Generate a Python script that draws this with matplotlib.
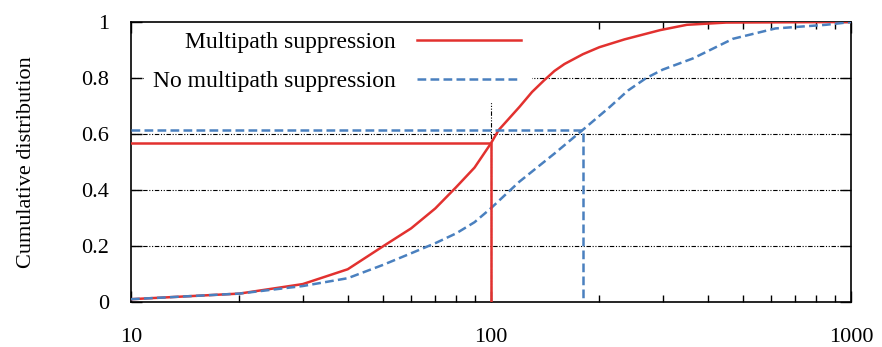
#!/usr/bin/env python3

import matplotlib
matplotlib.use("Agg")
import matplotlib.pyplot as plt
import matplotlib.ticker as mtick

# CDF of error with / without multipath suppression
withX = [10, 20, 30, 40, 50, 60, 70, 80, 90, 100, 105, 120, 130, 140, 150, 160, 180, 200, 235, 295, 350, 450, 1000]
withY = [0.01, 0.03, 0.064, 0.117, 0.198, 0.263, 0.334, 0.41, 0.48, 0.567, 0.614, 0.697, 0.75, 0.79, 0.825, 0.85, 0.885, 0.91, 0.938, 0.971, 0.99, 0.998, 1.0]

noX = [10, 20, 30, 40, 50, 60, 70, 80, 90, 100, 110, 120, 150, 180, 214, 240, 270, 300, 364, 470, 617, 852, 1000]
noY = [0.01, 0.03, 0.057, 0.085, 0.132, 0.174, 0.21, 0.245, 0.285, 0.335, 0.385, 0.43, 0.53, 0.615, 0.697, 0.755, 0.8, 0.83, 0.87, 0.94, 0.977, 0.99, 1.0]

# reference markers (x, cdf)
withMark = (100, 0.567)
noMark = (180, 0.615)

labelList = ["Multipath suppression", "No multipath suppression"]
yTicks = [0, 0.2, 0.4, 0.6, 0.8, 1]
xTicks = [10, 100, 1000]

red = "#e2312f"
blue = "#4a80bf"
font = "Liberation Serif"

plt.rcParams["font.family"] = [font, "DejaVu Serif"]

fig = plt.figure(figsize=(8.82, 3.47), dpi=100)
ax = fig.add_axes([131 / 882, 1 - 302 / 347, 720 / 882, 280 / 347])

gridStyle = dict(color="black", linewidth=0.8, linestyle=(0, (4, 1.5, 1, 1.5, 1, 1.5)), zorder=1)
for y in yTicks[1:-1]:
  ax.axhline(y, **gridStyle)
ax.axvline(100, **gridStyle)

dashStyle = (0, (3.5, 1.7))
ax.plot(withX, withY, color=red, linewidth=1.8, label=labelList[0], zorder=3)
ax.plot(noX, noY, color=blue, linewidth=1.8, linestyle=dashStyle, label=labelList[1], zorder=3)

ax.plot([10, withMark[0], withMark[0]], [withMark[1], withMark[1], 0], color=red, linewidth=1.8, zorder=3)
ax.plot([10, noMark[0], noMark[0]], [noMark[1], noMark[1], 0], color=blue, linewidth=1.8,
        linestyle=dashStyle, zorder=3)

ax.set_xscale("log")
ax.set_xlim(10, 1000)
ax.set_ylim(0, 1)
ax.set_xticks(xTicks)
ax.xaxis.set_major_formatter(mtick.FuncFormatter(lambda x, _: f"{x:g}"))
ax.xaxis.set_minor_formatter(mtick.NullFormatter())
ax.set_yticks(yTicks)
ax.set_yticklabels(["0", "0.2", "0.4", "0.6", "0.8", "1"])

ax.tick_params(which="both", direction="in", top=True, right=True, labelsize=16, colors="black")
ax.tick_params(axis="x", which="major", length=8, width=1, pad=19)
ax.tick_params(axis="x", which="minor", length=5, width=1)
ax.tick_params(axis="y", which="major", length=8, width=1, pad=16)
for s in ax.spines.values():
  s.set_linewidth(1.2)

ax.set_ylabel("Cumulative distribution", fontsize=16, labelpad=32)

leg = ax.legend(loc="upper right", bbox_to_anchor=(0.555, 1.0), markerfirst=False, fontsize=17,
                handlelength=4.4, handletextpad=0.9, labelspacing=0.76, borderpad=0.4,
                frameon=True, fancybox=False, framealpha=1.0, borderaxespad=0)
leg.get_frame().set_edgecolor("white")
leg.get_frame().set_facecolor("white")
leg.set_zorder(2)
for t in leg.get_texts():
  t.set_horizontalalignment("right")

fig.savefig("out.png", dpi=100)
